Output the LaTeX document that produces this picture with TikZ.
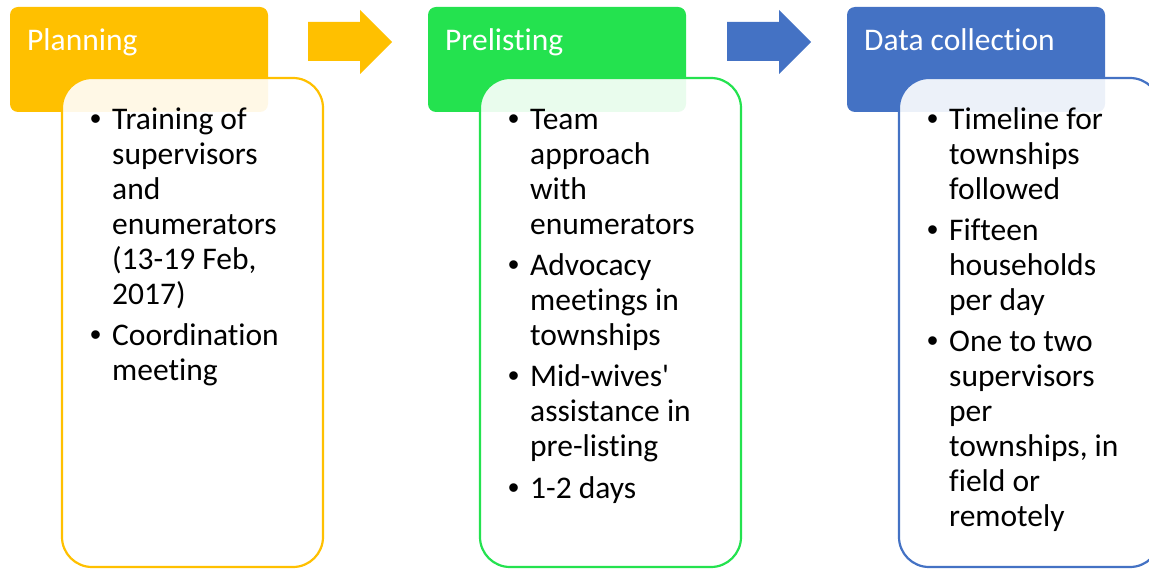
\documentclass[tikz,border=0pt]{standalone}
\usepackage{fontspec}
\setmainfont{Carlito}
\newfontfamily\bodyfont{Carlito}[Ligatures=NoCommon]
\newfontfamily\bulletfont{Liberation Sans}
\definecolor{plangold}{HTML}{FFC000}
\definecolor{prelgreen}{HTML}{24E24F}
\definecolor{datablue}{HTML}{4472C4}
\tikzset{
  header/.style={fill=#1, rounded corners=8pt, minimum width=258pt, minimum height=105pt,
    anchor=north west, inner sep=0pt, outer sep=0pt},
  bodybox/.style={draw=#1, line width=2.2pt, fill=white, fill opacity=0.9,
    rounded corners=30pt, minimum width=261pt, minimum height=489pt,
    anchor=north west, inner sep=0pt, outer sep=0pt},
  headtext/.style={text=white, anchor=base west, inner sep=0pt,
    font=\bodyfont\fontsize{31.5}{35}\selectfont},
  item/.style={anchor=base west, inner sep=0pt, font=\bodyfont\fontsize{31.5}{35}\selectfont},
}
\newcommand{\bulletitem}[1]{\makebox[22pt][l]{\bulletfont\textbullet}\parbox[t]{190pt}{\raggedright #1}}
\begin{document}
\begin{tikzpicture}[x=1pt,y=-1pt]
  \useasboundingbox (0,0) rectangle (1149,569);
  \clip (0,0) rectangle (1149,569);

  % stage headers
  \node[header=plangold]  (planhead) at (10,7)  {};
  \node[header=prelgreen] (prelhead) at (428,7) {};
  \node[header=datablue]  (datahead) at (847,7) {};

  % stage bodies, laid over the headers
  \node[bodybox=plangold]  (planbody) at (62,78)  {};
  \node[bodybox=prelgreen] (prelbody) at (480,78) {};
  \node[bodybox=datablue]  (databody) at (899,78) {};

  % block arrows between the stages
  \fill[plangold] (308,22) -- (360,22) -- (360,10) -- (392,42) -- (360,74) -- (360,61) -- (308,61) -- cycle;
  \fill[datablue] (727,22) -- (779,22) -- (779,10) -- (811,42) -- (779,74) -- (779,61) -- (727,61) -- cycle;

  % header titles
  \node[headtext] (plantitle) at (27,51)  {Planning};
  \node[headtext] (preltitle) at (445,51) {Prelisting};
  \node[headtext] (datatitle) at (864,51) {Data collection};

  % planning items
  \node[item] (plan1) at (90,130) {\bulletitem{Training of\\supervisors\\and\\enumerators\\(13-19 Feb,\\2017)}};
  \node[item] (plan2) at (90,346) {\bulletitem{Coordination\\meeting}};

  % prelisting items
  \node[item] (prel1) at (508,130) {\bulletitem{Team\\approach\\with\\enumerators}};
  \node[item] (prel2) at (508,276) {\bulletitem{Advocacy\\meetings in\\townships}};
  \node[item] (prel3) at (508,387) {\bulletitem{Mid-wives'\\assistance in\\pre-listing}};
  \node[item] (prel4) at (508,498) {\bulletitem{1-2 days}};

  % data collection items
  \node[item] (data1) at (927,130) {\bulletitem{Timeline for\\townships\\followed}};
  \node[item] (data2) at (927,241) {\bulletitem{Fifteen\\households\\per day}};
  \node[item] (data3) at (927,352) {\bulletitem{One to two\\supervisors\\per\\townships, in\\field or\\remotely}};
\end{tikzpicture}
\end{document}
